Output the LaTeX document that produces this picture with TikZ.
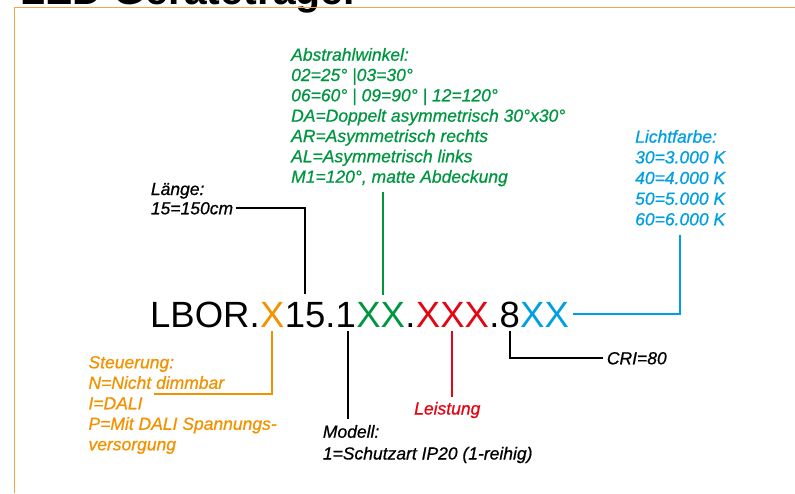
\documentclass[tikz,border=0pt]{standalone}
\usepackage{fontspec}
\setmainfont{Liberation Sans}
\newfontface\lblfont{Liberation Sans Italic}[FakeBold=0.7]
\usetikzlibrary{calc}
\definecolor{cor}{HTML}{F39200}
\definecolor{cgr}{HTML}{009640}
\definecolor{cre}{HTML}{E30613}
\definecolor{cbl}{HTML}{009FE3}
\definecolor{cframe}{HTML}{F5A54A}
\begin{document}
\begin{tikzpicture}[x=1pt,y=-1pt,
  lbl/.style={anchor=base west, inner sep=0pt, text depth=0pt, font=\fontsize{17.5}{20}\lblfont},
  codepart/.style={anchor=base west, inner sep=0pt, text height=26.2pt, text depth=0pt, font=\fontsize{36.5}{40}\selectfont},
  conn/.style={line width=2pt}]
\useasboundingbox (0,0) rectangle (795,493);
\clip (0,0) rectangle (795,493);
% cut-off heading
\node[anchor=base west, inner sep=0pt, font=\fontsize{41}{45}\selectfont\bfseries] (head) at (20,4) {LED Geräteträger};
% frame
\draw[cframe, line width=1.5pt] (14.7,493) -- (14.7,7.5) -- (795,7.5);
% code
\node[codepart] (c1) at (150,327) {LBOR.};
\node[codepart, text=cor] (c2) at (c1.base east) {X};
\node[codepart] (c3) at (c2.base east) {15.1};
\node[codepart, text=cgr] (c4) at (c3.base east) {XX};
\node[codepart] (c5) at (c4.base east) {.};
\node[codepart, text=cre] (c6) at (c5.base east) {XXX};
\node[codepart] (c7) at (c6.base east) {.8};
\node[codepart, text=cbl] (c8) at (c7.base east) {XX};
% green block
\node[lbl, text=cgr] (g1) at (291,60.7) {Abstrahlwinkel:};
\node[lbl, text=cgr] (g2) at (291,81) {02=25° |03=30°};
\node[lbl, text=cgr] (g3) at (291,101.3) {06=60° | 09=90° | 12=120°};
\node[lbl, text=cgr] (g4) at (291,121.7) {DA=Doppelt asymmetrisch 30°x30°};
\node[lbl, text=cgr] (g5) at (291,142) {AR=Asymmetrisch rechts};
\node[lbl, text=cgr] (g6) at (291,162.3) {AL=Asymmetrisch links};
\node[lbl, text=cgr] (g7) at (291,182.7) {M1=120°, matte Abdeckung};
% blue block
\node[lbl, text=cbl] (k1) at (635,142.7) {Lichtfarbe:};
\node[lbl, text=cbl] (k2) at (635,163.3) {30=3.000 K};
\node[lbl, text=cbl] (k3) at (635,184) {40=4.000 K};
\node[lbl, text=cbl] (k4) at (635,204.7) {50=5.000 K};
\node[lbl, text=cbl] (k5) at (635,225.3) {60=6.000 K};
% Laenge
\node[lbl] (l1) at (150.7,195) {Länge:};
\node[lbl] (l2) at (150.7,214.3) {15=150cm};
% orange block
\node[lbl, text=cor] (o1) at (88.3,368.3) {Steuerung:};
\node[lbl, text=cor] (o2) at (88.3,388.8) {N=Nicht dimmbar};
\node[lbl, text=cor] (o3) at (88.3,409.3) {I=DALI};
\node[lbl, text=cor] (o4) at (88.3,429.8) {P=Mit DALI Spannungs-};
\node[lbl, text=cor] (o5) at (88.3,450.3) {versorgung};
% red
\node[lbl, text=cre] (lei) at (414,414.5) {Leistung};
% Modell
\node[lbl] (m1) at (322.7,437.7) {Modell:};
\node[lbl] (m2) at (322.7,459.5) {1=Schutzart IP20 (1-reihig)};
% CRI
\node[lbl] (cri) at (606.7,364.3) {CRI=80};
% connectors
\coordinate (lenTop) at ($(c3.north west)+(20.3,-6.5)$);
\draw[conn] ([xshift=3pt]l2.east) -| (lenTop);
\coordinate (gBot) at ($(c4.north)+(2,-6)$);
\draw[conn, cgr, shorten >=9.3pt] (gBot) -- (gBot |- g7.south);
\draw[conn, cbl, shorten >=9pt] ([xshift=4pt]c8.east) -| (k5.south);
\coordinate (oTop) at ($(c2.south)+(0,4)$);
\coordinate (oEnd) at (154,394);
\draw[conn, cor] (oTop) |- (oEnd);
\coordinate (mTop) at ($(c3.south east)+(-7.7,4)$);
\draw[conn, shorten >=6pt] (mTop) -- (mTop |- m1.north);
\coordinate (rTop) at ($(c6.south)+(0,4)$);
\draw[conn, cre, shorten >=5pt] (rTop) -- (rTop |- lei.north);
\coordinate (kTop) at ($(c7.south east)+(-10.2,4)$);
\draw[conn, shorten >=3.5pt] (kTop) |- (cri.west);
\end{tikzpicture}
\end{document}
